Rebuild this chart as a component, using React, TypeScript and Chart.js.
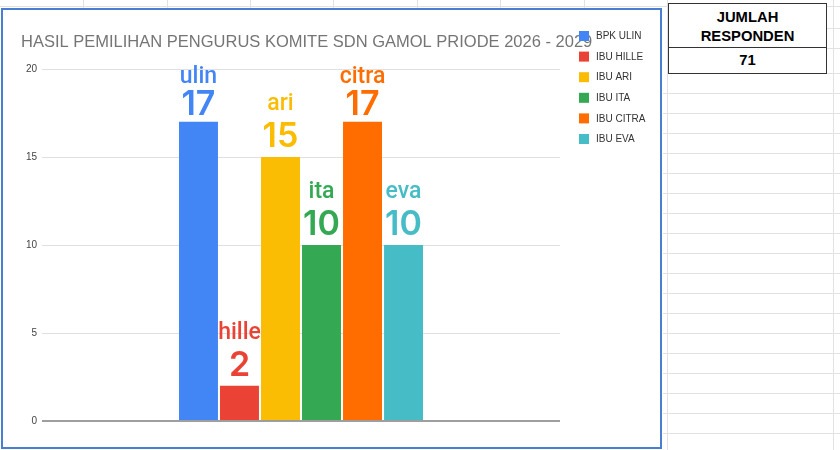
import React, { useEffect, useRef } from 'react';
import { Chart, registerables } from 'chart.js';

Chart.register(...registerables);

const categories = ['Suara'];
const seriesNames = ['BPK ULIN', 'IBU HILLE', 'IBU ARI', 'IBU ITA', 'IBU CITRA', 'IBU EVA'];
const shortNames = ['ulin', 'hille', 'ari', 'ita', 'citra', 'eva'];
const votes = [17, 2, 15, 10, 17, 10];
const seriesColors = ['#4285F4', '#EA4335', '#FBBC04', '#34A853', '#FF6D01', '#46BDC6'];
const yMin = 0;
const yMax = 20;
const yStep = 5;
const titleText = 'HASIL PEMILIHAN PENGURUS KOMITE SDN GAMOL PRIODE 2026 - 2029';
const totalHeader = ['JUMLAH', 'RESPONDEN'];
const totalValue = 71;

const CANVAS_W = 657;
const CANVAS_H = 437;

const overlayPlugin = {
  id: 'overlay',
  afterDatasetsDraw(chart: any) {
    const ctx = chart.ctx;
    const top = chart.chartArea.top;
    ctx.save();
    chart.data.datasets.forEach((ds: any, i: number) => {
      const meta = chart.getDatasetMeta(i);
      meta.data.forEach((el: any) => {
        const x = el.x;
        const y = el.y;
        const nameY = Math.max(y - 47, top + 14);
        const valY = Math.min(y - 7, Math.max(y - 10, nameY + 32));
        ctx.fillStyle = ds.backgroundColor;
        ctx.textAlign = 'center';
        ctx.textBaseline = 'alphabetic';
        ctx.font = '500 23px Roboto';
        ctx.fillText(shortNames[i], x, nameY);
        ctx.font = '600 34px Inter';
        ctx.fillText(String(ds.data[0]), x, valY);
      });
    });
    ctx.restore();
  },
  afterDraw(chart: any) {
    const ctx = chart.ctx;
    ctx.save();
    ctx.fillStyle = '#757575';
    ctx.font = '16.5px "Liberation Sans", Arial';
    ctx.textAlign = 'left';
    ctx.textBaseline = 'alphabetic';
    ctx.fillText(titleText, 18, 37);
    chart.data.datasets.forEach((ds: any, i: number) => {
      const cy = 26 + i * 20.6;
      ctx.fillStyle = ds.backgroundColor;
      ctx.fillRect(576, cy - 5, 10, 10);
      ctx.fillStyle = '#333';
      ctx.font = '10px "Liberation Sans", Arial';
      ctx.textBaseline = 'middle';
      ctx.fillText(ds.label, 593, cy + 0.5);
    });
    ctx.restore();
  },
};

function ChartBox() {
  const ref = useRef<HTMLCanvasElement | null>(null);
  useEffect(() => {
    if (!ref.current) return;
    const chart = new Chart(ref.current, {
      type: 'bar',
      data: {
        labels: categories,
        datasets: seriesNames.map((name, i) => ({
          label: name,
          data: [votes[i]],
          backgroundColor: seriesColors[i],
          categoryPercentage: 0.475,
          barPercentage: 0.95,
        })),
      },
      options: {
        animation: false,
        responsive: false,
        devicePixelRatio: 1,
        layout: { padding: { top: 59, right: 100, bottom: 26, left: 0 } },
        plugins: {
          legend: { display: false },
          title: { display: false },
          tooltip: { enabled: false },
        },
        scales: {
          x: { display: false },
          y: {
            min: yMin,
            max: yMax,
            afterFit(scale: any) {
              scale.width = 39;
            },
            ticks: {
              stepSize: yStep,
              padding: 5,
              color: '#444',
              font: { family: '"Liberation Sans", Arial', size: 10 },
            },
            border: { display: false },
            grid: {
              drawTicks: false,
              color: (c: any) => (c.tick && c.tick.value === 0 ? '#9e9e9e' : '#e0e0e0'),
              lineWidth: (c: any) => (c.tick && c.tick.value === 0 ? 2 : 1),
            },
          },
        },
      },
      plugins: [overlayPlugin],
    } as any);
    return () => chart.destroy();
  }, []);
  return (
    <canvas
      ref={ref}
      width={CANVAS_W}
      height={CANVAS_H}
      style={{ position: 'absolute', left: 3, top: 10, width: CANVAS_W, height: CANVAS_H }}
    />
  );
}

const lineColor = '#e2e2e2';

function SheetGrid() {
  const items: React.ReactNode[] = [];
  const topCols = [83, 167, 250, 333, 417, 500, 584];
  topCols.forEach((x, i) =>
    items.push(<div key={'tc' + i} style={{ position: 'absolute', left: x, top: 0, width: 1, height: 9, background: lineColor }} />)
  );
  items.push(<div key="tr" style={{ position: 'absolute', left: 0, top: 6, width: 840, height: 1, background: lineColor }} />);
  [667, 833].forEach((x, i) =>
    items.push(<div key={'rc' + i} style={{ position: 'absolute', left: x, top: 0, width: 1, height: 450, background: lineColor }} />)
  );
  for (let y = 93; y <= 440; y += 20) {
    items.push(<div key={'rr' + y} style={{ position: 'absolute', left: 663, top: y, width: 177, height: 1, background: lineColor }} />);
  }
  [28, 48, 73].forEach((y, i) =>
    items.push(<div key={'rs' + i} style={{ position: 'absolute', left: 826, top: y, width: 14, height: 1, background: lineColor }} />)
  );
  return <>{items}</>;
}

export default function App() {
  return (
    <div style={{ position: 'fixed', left: 0, top: 0, width: 840, height: 450, background: '#fff', overflow: 'hidden' }}>
      <SheetGrid />
      <div
        style={{
          position: 'absolute',
          left: 1,
          top: 8,
          width: 661,
          height: 441,
          boxSizing: 'border-box',
          border: '2px solid #4a7ed0',
          background: '#fff',
        }}
      />
      <ChartBox />
      <div
        style={{
          position: 'absolute',
          left: 668,
          top: 3,
          width: 159,
          height: 71,
          boxSizing: 'border-box',
          border: '1.5px solid #333',
          background: '#fff',
          fontFamily: '"Liberation Sans", Arial, sans-serif',
          fontWeight: 'bold',
          fontSize: 14.8,
          color: '#000',
          textAlign: 'center',
        }}
      >
        <div style={{ height: 44, boxSizing: 'border-box', borderBottom: '1.5px solid #333', paddingTop: 4, lineHeight: '19px' }}>
          {totalHeader.map((t) => (
            <div key={t}>{t}</div>
          ))}
        </div>
        <div style={{ lineHeight: '24px' }}>{totalValue}</div>
      </div>
    </div>
  );
}
